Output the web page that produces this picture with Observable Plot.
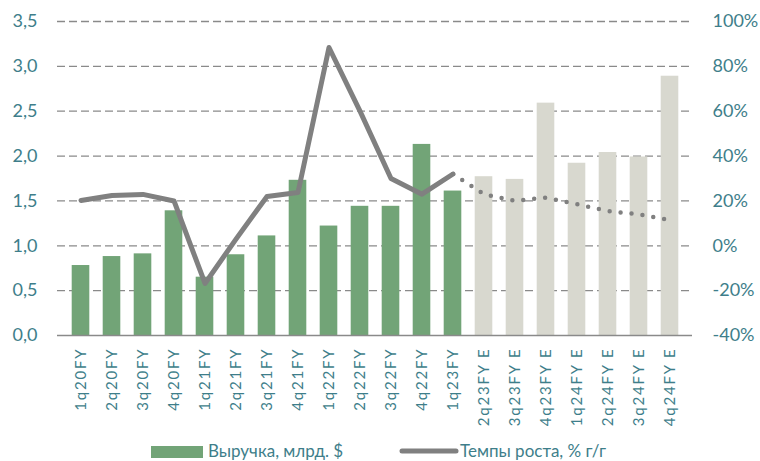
<!DOCTYPE html>
<html>
<head>
<meta charset="utf-8">
<script src="https://cdn.jsdelivr.net/npm/d3@7"></script>
<script src="https://cdn.jsdelivr.net/npm/@observablehq/plot@0.6"></script>
<style>
  html, body { margin: 0; padding: 0; background: #fff; }
  #chart svg { display: block; }
  .xlab [aria-label="x-axis tick label"] text { letter-spacing: 1.8px; }
</style>
</head>
<body>
<div id="chart"></div>
<script>
const categories = ["1q20FY","2q20FY","3q20FY","4q20FY","1q21FY","2q21FY","3q21FY","4q21FY","1q22FY","2q22FY","3q22FY","4q22FY","1q23FY","2q23FY E","3q23FY E","4q23FY E","1q24FY E","2q24FY E","3q24FY E","4q24FY E"];
const revenue = [0.78,0.88,0.91,1.39,0.65,0.90,1.11,1.73,1.22,1.44,1.44,2.13,1.61,1.77,1.74,2.59,1.92,2.04,1.99,2.89];
const growth = [20.2,22.4,22.9,20,-16.8,3,22,23.8,88.4,60,30,23,32,23,20,21.5,18.5,15.5,14,11.5];
const leftTicks = [0,0.5,1,1.5,2,2.5,3,3.5];
const rightTicks = [-40,-20,0,20,40,60,80,100];
const legendLabels = ["Выручка, млрд. $", "Темпы роста, % г/г"];

const GREEN = "#72A477", BEIGE = "#D8D8CF", GRAY = "#808080", TEAL = "#3E7E8A", GRID = "#8A8A8A";
const toLeft = g => (g + 40) / 40; // -40% -> 0, 100% -> 3.5

const rows = categories.map((c, i) => ({cat: c, rev: revenue[i], g: growth[i], fc: c.endsWith(" E"), i}));
const lastActual = rows.filter(d => !d.fc).length - 1;
const actual = rows.filter(d => d.i <= lastActual);
const forecast = rows.filter(d => d.i >= lastActual);

const chart = Plot.plot({
  width: 760, height: 438,
  marginTop: 21, marginLeft: 57, marginRight: 68, marginBottom: 103,
  className: "xlab",
  style: {fontFamily: "Lato, sans-serif", background: "white"},
  x: {domain: categories, padding: 0, axis: null, label: null},
  y: {domain: [0, 3.5], axis: null, label: null},
  marks: [
    Plot.ruleY(leftTicks.filter(d => d > 0), {stroke: GRID, strokeWidth: 1.3, strokeDasharray: "8,4"}),
    Plot.barY(rows, {x: "cat", y: "rev", fill: d => d.fc ? BEIGE : GREEN, insetLeft: 6.7, insetRight: 6.7}),
    Plot.ruleY([0], {stroke: GRID, strokeWidth: 1.6}),
    Plot.line(actual, {x: "cat", y: d => toLeft(d.g), stroke: GRAY, strokeWidth: 5, strokeLinejoin: "round", strokeLinecap: "round"}),
    Plot.line(forecast, {x: "cat", y: d => toLeft(d.g), stroke: GRAY, strokeWidth: 4.5, strokeDasharray: "0,11", strokeLinecap: "round"}),
    Plot.axisY(leftTicks, {anchor: "left", label: null, tickSize: 0, tickPadding: 20, fontSize: 18, color: TEAL,
      tickFormat: d => d.toFixed(1).replace(".", ",")}),
    Plot.axisY(rightTicks.map(toLeft), {anchor: "right", label: null, tickSize: 0, tickPadding: 20, fontSize: 18, color: TEAL,
      tickFormat: d => Math.round(d * 40 - 40) + "%"}),
    Plot.axisX({label: null, tickRotate: -90, tickSize: 0, tickPadding: 12, fontSize: 15, color: TEAL})
  ]
});
document.getElementById("chart").appendChild(chart);

// Legend below the chart
const ns = "http://www.w3.org/2000/svg";
const leg = d3.create("svg").attr("xmlns", ns).attr("width", 760).attr("height", 23)
  .style("display", "block").style("font-family", "Lato, sans-serif");
leg.append("rect").attr("x", 151).attr("y", 8).attr("width", 52).attr("height", 12).attr("fill", GREEN);
leg.append("text").attr("x", 208).attr("y", 19).attr("font-size", 17).attr("fill", TEAL).text(legendLabels[0]);
leg.append("line").attr("x1", 402).attr("x2", 456).attr("y1", 13).attr("y2", 13)
  .attr("stroke", GRAY).attr("stroke-width", 5).attr("stroke-linecap", "round");
leg.append("text").attr("x", 460).attr("y", 19).attr("font-size", 17).attr("fill", TEAL).text(legendLabels[1]);
document.getElementById("chart").appendChild(leg.node());
</script>
</body>
</html>
